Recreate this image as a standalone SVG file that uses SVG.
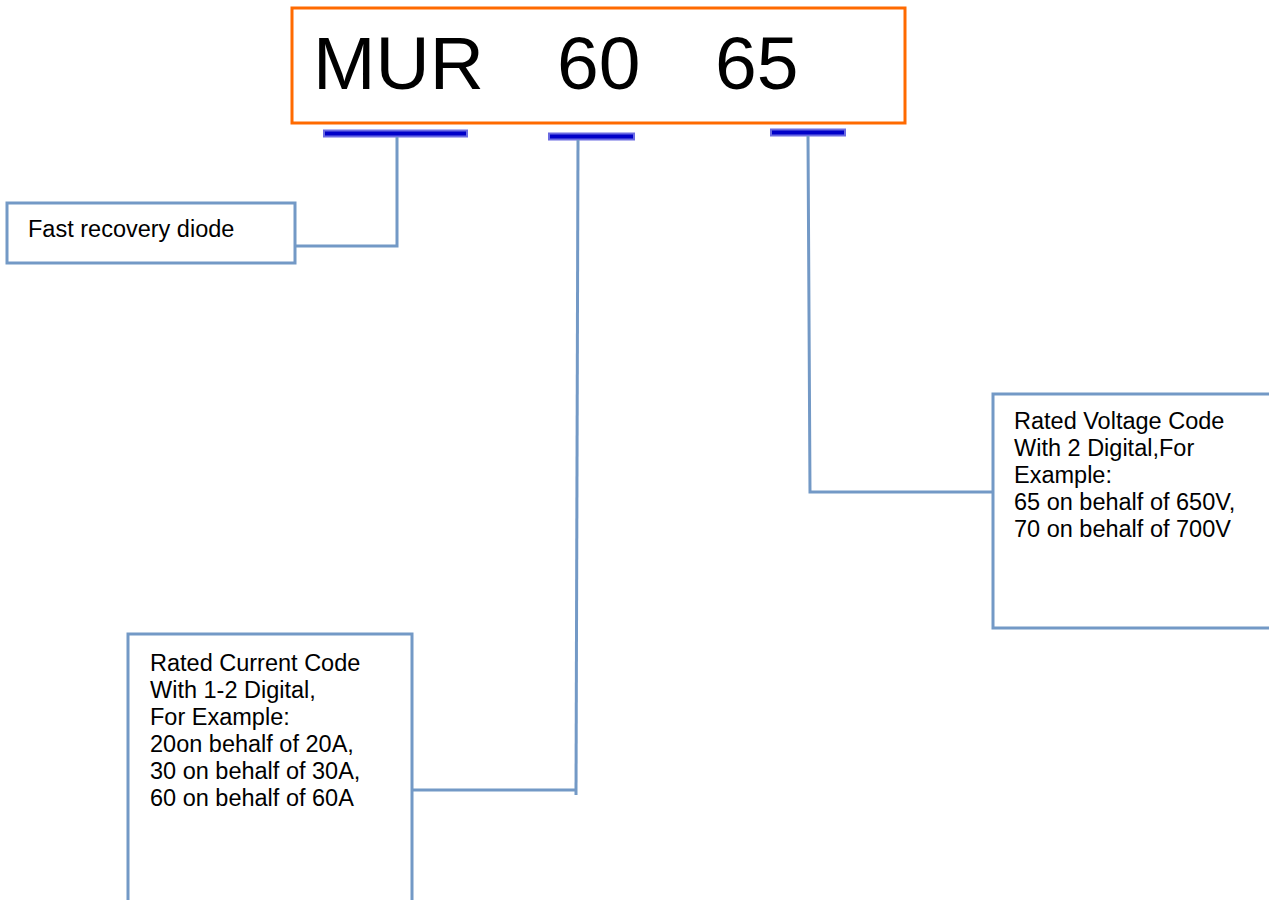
<svg xmlns="http://www.w3.org/2000/svg" width="1269" height="900" viewBox="0 0 1269 900">
<style>
.box{fill:#fff;stroke:#7399C6;stroke-width:3}
.con{fill:none;stroke:#7399C6;stroke-width:3}
.bar{fill:#0000C8;stroke:#6A6AE2;stroke-width:2}
.lbl{font-family:"Liberation Sans",Arial,sans-serif;font-size:23.5px;fill:#000}
.code{font-family:"Liberation Sans",Arial,sans-serif;font-size:75px;fill:#000}
</style>
<rect width="1269" height="900" fill="#fff"/>
<g id="code">
<rect x="292" y="8" width="613" height="115" fill="#fff" stroke="#FF6A00" stroke-width="3"/>
<text class="code" x="313" y="88.5">MUR</text>
<text class="code" x="557" y="88.5">60</text>
<text class="code" x="715" y="88.5">65</text>
</g>
<g id="bars">
<rect class="bar" x="324" y="130.5" width="143" height="6"/>
<rect class="bar" x="549" y="133.5" width="85" height="6"/>
<rect class="bar" x="771" y="129.5" width="74" height="6"/>
</g>
<g id="connectors">
<polyline class="con" points="397,137 397,246 295,246"/>
<polyline class="con" points="578,140 576,795"/>
<polyline class="con" points="412,790 577,790"/>
<polyline class="con" points="808,136 810,492 993,492"/>
</g>
<g id="node-type">
<rect class="box" x="7" y="203" width="288" height="60"/>
<text class="lbl" x="28" y="237">Fast recovery diode</text>
</g>
<g id="node-current">
<path class="box" d="M128,901 V634 H412 V901"/>
<text class="lbl" x="150" y="671">Rated Current Code</text>
<text class="lbl" x="150" y="698">With 1-2 Digital,</text>
<text class="lbl" x="150" y="725">For Example:</text>
<text class="lbl" x="150" y="752">20on behalf of 20A,</text>
<text class="lbl" x="150" y="779">30 on behalf of 30A,</text>
<text class="lbl" x="150" y="806">60 on behalf of 60A</text>
</g>
<g id="node-voltage">
<path class="box" d="M1270,394 H993 V628 H1270"/>
<text class="lbl" x="1014" y="429">Rated Voltage Code</text>
<text class="lbl" x="1014" y="456">With 2 Digital,For</text>
<text class="lbl" x="1014" y="483">Example:</text>
<text class="lbl" x="1014" y="510">65 on behalf of 650V,</text>
<text class="lbl" x="1014" y="537">70 on behalf of 700V</text>
</g>
</svg>
